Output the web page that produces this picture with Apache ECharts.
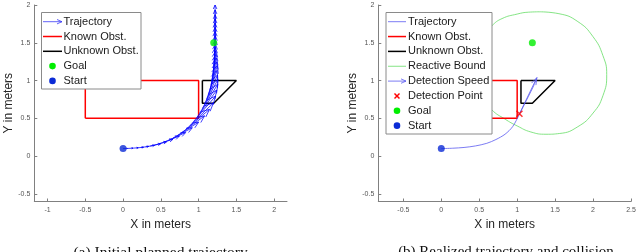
<!DOCTYPE html>
<html><head><meta charset="utf-8">
<script src="https://cdn.jsdelivr.net/npm/echarts@6/dist/echarts.min.js"></script>
<style>html,body{margin:0;padding:0;background:#fff}#c{width:640px;height:252px}</style>
</head><body><div id="c"></div>
<script>
// ---- data ----
const xTicksA = [-1, -0.5, 0, 0.5, 1, 1.5, 2];
const xTicksB = [-0.5, 0, 0.5, 1, 1.5, 2, 2.5];
const yTicks = [-0.5, 0, 0.5, 1, 1.5, 2];
const knownX = [-0.5, 1, 1, -0.5, -0.5];
const knownY = [0.5, 0.5, 1, 1, 0.5];
const unknownX = [1.05, 1.5, 1.2, 1.05, 1.05];
const unknownY = [1, 1, 0.7, 0.7, 1];
const goalXY = [1.2, 1.5];
const startXY = [0, 0.1];
// planned trajectory (quiver): sample positions and velocity arrows
const quivX = [0.00,0.06,0.12,0.18,0.24,0.30,0.36,0.42,0.48,0.54,0.60,0.66,0.72,0.78,0.83,0.88,0.93,0.975,1.015,1.05,1.08,1.105,1.13,1.15,1.165,1.178,1.188,1.196,1.202,1.207,1.211,1.214,1.216,1.217,1.218,1.218,1.218,1.218];
const quivY = [0.100,0.102,0.105,0.109,0.115,0.123,0.134,0.148,0.165,0.186,0.21,0.24,0.275,0.315,0.355,0.40,0.455,0.51,0.57,0.63,0.69,0.75,0.815,0.88,0.945,1.01,1.075,1.14,1.205,1.27,1.335,1.40,1.465,1.53,1.595,1.66,1.725,1.79];
const quivU = [0.060,0.070,0.080,0.090,0.099,0.118,0.137,0.155,0.181,0.205,0.228,0.256,0.280,0.299,0.314,0.317,0.295,0.265,0.239,0.207,0.171,0.140,0.117,0.092,0.069,0.053,0.039,0.026,0.020,0.014,0.009,0.004,0.002,0,0,0,0,0];
const quivV = [0.002,0.004,0.006,0.009,0.014,0.021,0.029,0.041,0.059,0.079,0.102,0.136,0.175,0.218,0.264,0.306,0.340,0.364,0.382,0.389,0.384,0.385,0.383,0.369,0.353,0.336,0.318,0.299,0.279,0.270,0.260,0.250,0.240,0.23,0.22,0.21,0.21,0.21];
// realized trajectory
const trajBX = [0, 0.15, 0.30, 0.45, 0.60, 0.72, 0.84, 0.94, 1.03, 1.09, 1.15, 1.21, 1.255];
const trajBY = [0.10, 0.105, 0.115, 0.135, 0.17, 0.22, 0.29, 0.39, 0.555, 0.675, 0.795, 0.915, 1.02];
// reactive bound
const boundX = [1.30,1.55,1.80,2.00,2.13,2.18,2.13,2.00,1.80,1.56,1.38,1.18,1.00,0.84,0.664,0.53,0.47,0.49,0.57,0.668,0.80,1.00,1.15,1.30];
const boundY = [1.91,1.885,1.78,1.58,1.33,1.08,0.80,0.57,0.39,0.30,0.29,0.32,0.40,0.49,0.615,0.80,1.05,1.35,1.60,1.726,1.82,1.88,1.905,1.91];
const detPointXY = [1.03, 0.56];
const detSpeedUV = [0.23, 0.48];
const legendA = ['Trajectory', 'Known Obst.', 'Unknown Obst.', 'Goal', 'Start'];
const legendB = ['Trajectory', 'Known Obst.', 'Unknown Obst.', 'Reactive Bound', 'Detection Speed', 'Detection Point', 'Goal', 'Start'];
const captions = ['(a) Initial planned trajectory.', '(b) Realized trajectory and collision'];
const axisNames = ['X in meters', 'Y in meters'];

// ---- styles ----
const BLUE = '#0000ff', RED = '#ff0000', BLACK = '#000000', GREEN = '#00ee00', STARTC = '#0b2bd6', BOUND = '#66dd66', TRAJB = '#5a5af0';
const FONT = '"Liberation Sans", Arial, Helvetica, sans-serif';
const SERIF = '"Liberation Serif", "Times New Roman", serif';

const zip = (a, b) => a.map((v, i) => [v, b[i]]);

function arrowRender(color, width, alpha, beta) {
  return function (params, api) {
    const x = api.value(0), y = api.value(1), u = api.value(2), v = api.value(3);
    const p0 = api.coord([x, y]);
    const p1 = api.coord([x + u, y + v]);
    const h1 = api.coord([x + u - alpha * (u + beta * v), y + v - alpha * (v - beta * u)]);
    const h2 = api.coord([x + u - alpha * (u - beta * v), y + v - alpha * (v + beta * u)]);
    return { type: 'group', children: [
      { type: 'polyline', shape: { points: [p0, p1] }, style: { stroke: color, lineWidth: width, fill: null } },
      { type: 'polyline', shape: { points: [h1, p1, h2] }, style: { stroke: color, lineWidth: width, fill: null } }
    ]};
  };
}

function xAxisDef(gi, min, max, ticks) {
  return {
    type: 'value', gridIndex: gi, min: min, max: max,
    axisLine: { onZero: false, lineStyle: { color: '#808080', width: 1 } },
    axisTick: { inside: true, length: 3, customValues: ticks, lineStyle: { color: '#808080' } },
    axisLabel: { customValues: ticks, fontSize: 7, color: '#555', fontFamily: FONT, margin: 5 },
    splitLine: { show: false },
    name: axisNames[0], nameLocation: 'middle', nameGap: 17,
    nameTextStyle: { fontSize: 12, color: '#262626', fontFamily: FONT }
  };
}
function yAxisDef(gi, gap) {
  return {
    type: 'value', gridIndex: gi, min: -0.6, max: 2,
    axisLine: { onZero: false, lineStyle: { color: '#808080', width: 1 } },
    axisTick: { inside: true, length: 3, customValues: yTicks, lineStyle: { color: '#808080' } },
    axisLabel: { customValues: yTicks, fontSize: 7, color: '#555', fontFamily: FONT, margin: 4 },
    splitLine: { show: false },
    name: axisNames[1], nameLocation: 'middle', nameGap: gap, nameRotate: 90,
    nameTextStyle: { fontSize: 12, color: '#262626', fontFamily: FONT }
  };
}

function lineSeries(gi, data, color, width, smooth) {
  return { type: 'line', xAxisIndex: gi, yAxisIndex: gi, data: data, symbol: 'none', smooth: smooth || false,
    lineStyle: { color: color, width: width }, itemStyle: { color: color }, animation: false, z: 3 };
}
function dotSeries(gi, xy, color, size) {
  return { type: 'scatter', xAxisIndex: gi, yAxisIndex: gi, data: [xy], symbol: 'circle', symbolSize: size,
    itemStyle: { color: color }, animation: false, z: 5 };
}

// ---- legend drawing (graphic) ----
function legendGraphic(box, items, lx0, lx1, tx, y0, pitch) {
  const els = [{ type: 'rect', shape: { x: box[0], y: box[1], width: box[2], height: box[3] },
    style: { fill: '#fff', stroke: '#8a8a8a', lineWidth: 1 }, z: 100 }];
  items.forEach((it, i) => {
    const y = y0 + i * pitch;
    const mx = (lx0 + lx1) / 2;
    if (it.kind === 'line' || it.kind === 'arrow') {
      els.push({ type: 'line', shape: { x1: lx0, y1: y, x2: lx1, y2: y }, style: { stroke: it.color, lineWidth: it.w }, z: 101 });
      if (it.kind === 'arrow') {
        els.push({ type: 'polyline', shape: { points: [[lx1 - 5, y - 2.2], [lx1, y], [lx1 - 5, y + 2.2]] },
          style: { stroke: it.color, lineWidth: it.w, fill: null }, z: 101 });
      }
    } else if (it.kind === 'dot') {
      els.push({ type: 'circle', shape: { cx: mx, cy: y, r: 3.3 }, style: { fill: it.color }, z: 101 });
    } else if (it.kind === 'x') {
      els.push({ type: 'polyline', shape: { points: [[mx - 2.5, y - 2.5], [mx + 2.5, y + 2.5]] }, style: { stroke: it.color, lineWidth: 1.5, fill: null }, z: 101 });
      els.push({ type: 'polyline', shape: { points: [[mx - 2.5, y + 2.5], [mx + 2.5, y - 2.5]] }, style: { stroke: it.color, lineWidth: 1.5, fill: null }, z: 101 });
    }
    els.push({ type: 'text', x: tx, y: y, style: { text: it.name, fontSize: 11, fontFamily: FONT, fill: '#1a1a1a', verticalAlign: 'middle', align: 'left' }, z: 101 });
  });
  return els;
}

const itemsA = [
  { name: legendA[0], kind: 'arrow', color: '#3a3af5', w: 0.8 },
  { name: legendA[1], kind: 'line', color: RED, w: 1.5 },
  { name: legendA[2], kind: 'line', color: BLACK, w: 1.5 },
  { name: legendA[3], kind: 'dot', color: GREEN },
  { name: legendA[4], kind: 'dot', color: STARTC }
];
const itemsB = [
  { name: legendB[0], kind: 'line', color: TRAJB, w: 0.8 },
  { name: legendB[1], kind: 'line', color: RED, w: 1.5 },
  { name: legendB[2], kind: 'line', color: BLACK, w: 1.5 },
  { name: legendB[3], kind: 'line', color: BOUND, w: 0.8 },
  { name: legendB[4], kind: 'arrow', color: TRAJB, w: 0.8 },
  { name: legendB[5], kind: 'x', color: RED },
  { name: legendB[6], kind: 'dot', color: GREEN },
  { name: legendB[7], kind: 'dot', color: STARTC }
];

const graphics = []
  .concat(legendGraphic([41.5, 12.5, 99.5, 76.5], itemsA, 43, 62, 63.5, 21.7, 14.8))
  .concat(legendGraphic([386, 12.5, 106, 121.5], itemsB, 388, 406, 408, 21.7, 14.85))
  .concat([
    { type: 'text', x: 162, y: 245, style: { text: captions[0], fontSize: 15.5, fontFamily: SERIF, fill: '#111', align: 'center', verticalAlign: 'top' }, z: 100 },
    { type: 'text', x: 506, y: 245, style: { text: captions[1], fontSize: 15, fontFamily: SERIF, fill: '#111', align: 'center', verticalAlign: 'top' }, z: 100 }
  ]);

const quivData = quivX.map((x, i) => [x, quivY[i], quivU[i], quivV[i]]);

const option = {
  animation: false,
  backgroundColor: '#fff',
  grid: [
    { left: 34.3, top: 5, width: 252.7, height: 196.5 },
    { left: 378.3, top: 5, width: 252.7, height: 196.5 }
  ],
  xAxis: [xAxisDef(0, -1.175, 2.17, xTicksA), xAxisDef(1, -0.83, 2.5, xTicksB)],
  yAxis: [yAxisDef(0, 19), yAxisDef(1, 19)],
  series: [
    lineSeries(0, zip(knownX, knownY), RED, 1.5),
    lineSeries(0, zip(unknownX, unknownY), BLACK, 1.5),
    { type: 'custom', xAxisIndex: 0, yAxisIndex: 0, data: quivData, encode: { x: 0, y: 1 },
      renderItem: arrowRender(BLUE, 0.75, 0.25, 0.45), clip: false, z: 4, animation: false },
    dotSeries(0, goalXY, GREEN, 7),
    dotSeries(0, startXY, STARTC, 7),

    lineSeries(1, zip(boundX, boundY), BOUND, 0.8, 0.5),
    lineSeries(1, zip(knownX, knownY), RED, 1.5),
    lineSeries(1, zip(unknownX, unknownY), BLACK, 1.5),
    lineSeries(1, zip(trajBX, trajBY), TRAJB, 0.8, 0.3),
    { type: 'custom', xAxisIndex: 1, yAxisIndex: 1, data: [[detPointXY[0], detPointXY[1], detSpeedUV[0], detSpeedUV[1]]], encode: { x: 0, y: 1 },
      renderItem: arrowRender(TRAJB, 0.8, 0.18, 0.33), clip: false, z: 4, animation: false },
    { type: 'scatter', xAxisIndex: 1, yAxisIndex: 1, data: [detPointXY], symbol: 'path://M0,0L10,10M10,0L0,10', symbolSize: 6,
      itemStyle: { color: 'rgba(0,0,0,0)', borderColor: RED, borderWidth: 1.5 }, z: 5 },
    dotSeries(1, goalXY, GREEN, 7),
    dotSeries(1, startXY, STARTC, 7)
  ],
  graphic: graphics
};

const chart = echarts.init(document.getElementById('c'), null, { renderer: 'canvas' });
chart.setOption(option);
</script>
</body></html>
